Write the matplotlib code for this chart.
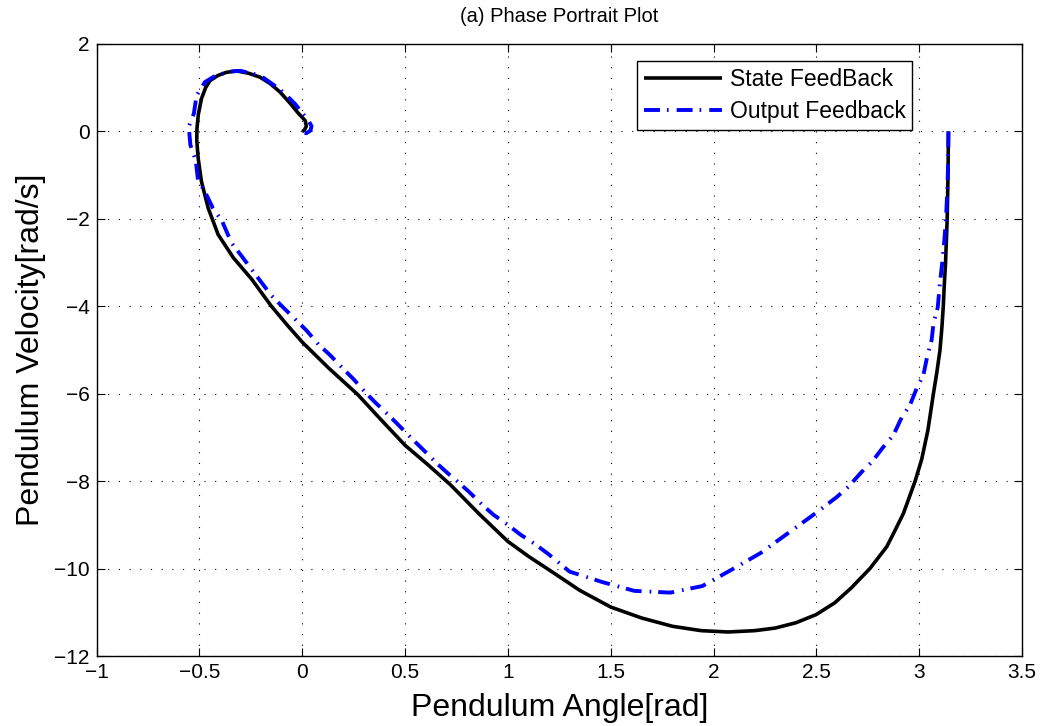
import matplotlib
matplotlib.use("Agg")
import matplotlib.pyplot as plt

# State feedback trajectory (angle [rad], velocity [rad/s])
state_angle = [3.142, 3.141, 3.140, 3.138, 3.136, 3.132, 3.128, 3.122, 3.117, 3.110,
               3.101, 3.086, 3.069, 3.042, 3.012, 2.980, 2.923, 2.880, 2.842, 2.760,
               2.670, 2.590, 2.500, 2.400, 2.300, 2.200, 2.070, 1.940, 1.800, 1.650,
               1.500, 1.350, 1.210, 1.100, 1.000, 0.860, 0.720, 0.610, 0.500, 0.380,
               0.270, 0.130, 0.000, -0.075, -0.153, -0.246, -0.335, -0.409, -0.457, -0.490,
               -0.506, -0.513, -0.512, -0.505, -0.490, -0.470, -0.449, -0.410, -0.370, -0.320,
               -0.260, -0.205, -0.155, -0.108, -0.060, -0.020, 0.014, 0.020, 0.010, 0.000]
state_vel = [0.00, -0.50, -1.00, -1.50, -2.00, -2.50, -3.00, -3.50, -4.00, -4.50,
             -5.00, -5.50, -6.00, -6.84, -7.50, -8.00, -8.74, -9.15, -9.50, -10.00,
             -10.44, -10.78, -11.05, -11.24, -11.36, -11.42, -11.45, -11.42, -11.32, -11.13,
             -10.88, -10.50, -10.06, -9.72, -9.38, -8.75, -8.08, -7.62, -7.18, -6.58,
             -6.02, -5.42, -4.82, -4.42, -3.98, -3.38, -2.89, -2.36, -1.76, -1.15,
             -0.62, -0.20, 0.07, 0.40, 0.75, 1.00, 1.16, 1.28, 1.35, 1.385,
             1.33, 1.24, 1.09, 0.90, 0.65, 0.42, 0.25, 0.12, 0.03, 0.00]

# Output feedback trajectory (angle [rad], velocity [rad/s])
output_angle = [3.142, 3.141, 3.139, 3.135, 3.130, 3.122, 3.112, 3.100, 3.090, 3.070,
                3.060, 3.040, 3.020, 2.990, 2.955, 2.915, 2.874, 2.825, 2.770, 2.720,
                2.655, 2.600, 2.500, 2.365, 2.230, 2.090, 1.945, 1.790, 1.615, 1.460,
                1.300, 1.200, 1.135, 1.060, 1.000, 0.930, 0.875, 0.810, 0.753, 0.710,
                0.656, 0.590, 0.540, 0.477, 0.420, 0.355, 0.307, 0.250, 0.193, 0.136,
                0.078, 0.022, -0.027, -0.092, -0.149, -0.220, -0.295, -0.344, -0.390, -0.434,
                -0.473, -0.507, -0.518, -0.544, -0.552, -0.527, -0.514, -0.473, -0.420, -0.350,
                -0.300, -0.205, -0.147, -0.093, -0.035, 0.000, 0.030, 0.045, 0.040, 0.020, 0.000]
output_vel = [0.00, -0.50, -1.00, -1.50, -2.00, -2.50, -3.00, -3.50, -4.03, -4.37,
              -4.78, -5.12, -5.58, -5.85, -6.26, -6.54, -6.95, -7.22, -7.56, -7.79,
              -8.13, -8.36, -8.72, -9.18, -9.64, -10.02, -10.40, -10.55, -10.51, -10.31,
              -10.07, -9.68, -9.45, -9.22, -9.00, -8.77, -8.54, -8.24, -8.00, -7.83,
              -7.60, -7.29, -7.06, -6.76, -6.49, -6.20, -5.97, -5.67, -5.40, -5.12,
              -4.87, -4.56, -4.33, -4.03, -3.76, -3.32, -2.85, -2.55, -2.05, -1.76,
              -1.38, -1.11, -0.66, -0.31, 0.11, 0.41, 0.82, 1.13, 1.28, 1.37,
              1.385, 1.28, 1.09, 0.90, 0.63, 0.42, 0.25, 0.12, 0.02, -0.04, -0.02]

x_ticks = [-1, -0.5, 0, 0.5, 1, 1.5, 2, 2.5, 3, 3.5]
x_tick_labels = ['\u22121', '\u22120.5', '0', '0.5', '1', '1.5', '2', '2.5', '3', '3.5']
y_ticks = [-12, -10, -8, -6, -4, -2, 0, 2]
y_tick_labels = ['\u221212', '\u221210', '\u22128', '\u22126', '\u22124', '\u22122', '0', '2']

plt.rcParams['font.family'] = ['Liberation Sans', 'DejaVu Sans']
plt.rcParams['lines.scale_dashes'] = False

fig = plt.figure(figsize=(10.41, 7.26), dpi=100)
ax = fig.add_axes([0.0928, 0.0964, 0.889, 0.843])

ax.plot(state_angle, state_vel, color='black', lw=2.6, solid_capstyle='butt',
        solid_joinstyle='round', label='State FeedBack', zorder=3)
ax.plot(output_angle, output_vel, color='#0000ff', lw=2.8,
        dashes=(11.5, 5.0, 1.2, 5.8), dash_capstyle='butt', dash_joinstyle='round',
        label='Output Feedback', zorder=4)

ax.set_xlim(-1, 3.5)
ax.set_ylim(-12, 2)
ax.set_xticks(x_ticks)
ax.set_xticklabels(x_tick_labels)
ax.set_yticks(y_ticks)
ax.set_yticklabels(y_tick_labels)

ax.grid(True, color='black', linestyle=(0, (0.8, 6.9)), linewidth=0.8)
ax.tick_params(direction='in', length=6, width=0.8, top=True, right=True,
               labelsize=15, pad=5)
for s in ax.spines.values():
    s.set_linewidth(1.0)

ax.set_xlabel('Pendulum Angle[rad]', fontsize=23, labelpad=8)
ax.set_ylabel('Pendulum Velocity[rad/s]', fontsize=23, labelpad=6)
ax.set_title('(a) Phase Portrait Plot', fontsize=14.5, pad=16)

leg = ax.legend(loc='upper right', bbox_to_anchor=(0.881, 0.972), borderaxespad=0,
                fontsize=16.5, handlelength=3.4, fancybox=False, framealpha=1,
                edgecolor='black', borderpad=0.28, labelspacing=0.42, handletextpad=0.35)
leg.get_frame().set_linewidth(1.0)

fig.savefig('out.png', dpi=100)
